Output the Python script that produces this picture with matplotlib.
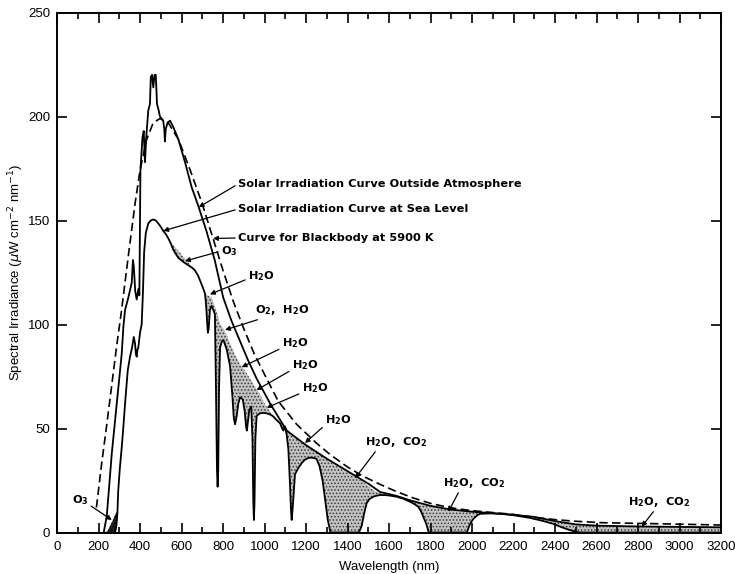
import numpy as np
import matplotlib
matplotlib.use("Agg")
import matplotlib.pyplot as plt
from matplotlib.ticker import MultipleLocator

plt.rcParams['hatch.linewidth'] = 0.7

# ---- Sea-level spectrum (nm, uW cm^-2 nm^-1) and top edge of the absorption shading ----
sea_nm = [240, 255, 270, 280, 286, 291, 295, 303, 312, 320,
          328, 336, 341, 352, 362, 370, 376, 380, 384, 388,
          392, 400, 408, 414, 420, 428, 440, 452, 464, 476,
          488, 500, 512, 524, 536, 548, 560, 572, 585, 598,
          610, 625, 640, 655, 665, 680, 690, 700, 713, 718,
          722, 727, 731, 737, 745, 753, 761, 766, 771, 774,
          777, 781, 786, 795, 802, 818, 834, 845, 852, 858,
          866, 874, 882, 895, 905, 911, 915, 921, 927, 936,
          942, 946, 949, 952, 956, 962, 978, 995, 1010, 1025,
          1040, 1059, 1075, 1083, 1091, 1099, 1107, 1115, 1122, 1128,
          1131, 1136, 1147, 1163, 1180, 1195, 1210, 1227, 1250, 1265,
          1280, 1293, 1305, 1318, 1340, 1360, 1380, 1400, 1420, 1440,
          1455, 1468, 1480, 1492, 1505, 1524, 1540, 1557, 1580, 1600,
          1637, 1670, 1701, 1720, 1741, 1755, 1765, 1780, 1792, 1850,
          1900, 1950, 1975, 1990, 2006, 2025, 2040, 2090, 2150, 2200,
          2280, 2340, 2390, 2430, 2470, 2500, 2520, 2600, 2700, 2800,
          2900, 3000, 3100, 3200]

sea_val = [0, 0, 0, 0, 3, 9, 20, 31, 41, 51,
           62, 72, 78, 84.5, 89, 94, 91, 86, 84.5, 88,
           89, 96, 100, 115, 135, 144, 148.6, 150, 150.5, 150,
           148.6, 147, 145, 143.5, 141.5, 139, 136, 134, 132, 131,
           130, 129, 128, 127, 126, 123.5, 121, 118.5, 115, 110,
           104, 96, 98, 107, 109, 107, 105, 70, 30, 22,
           30, 70, 89, 92, 92.5, 88, 80, 66, 55, 52,
           56, 62, 65, 64, 58, 51, 49, 54, 59, 60.5,
           45, 15, 6, 15, 45, 56, 57.3, 57.5, 57.3, 56.8,
           56, 54, 52.5, 50.5, 49, 51, 47, 40, 25, 10,
           6, 12, 28, 31, 33.5, 35, 35.8, 36, 35.5, 32,
           25, 15, 6, 0, 0, 0, 0, 0, 0, 0,
           0, 3, 9, 14, 16, 17.2, 17.7, 18, 18, 17.8,
           17.2, 16.2, 14.8, 13.8, 12.4, 10, 7.6, 4, 0, 0,
           0, 0, 0, 4, 6.5, 8.3, 9, 9.2, 8.9, 8.3,
           7, 5.6, 4.2, 2.6, 1.2, 0.4, 0, 0, 0, 0,
           0, 0, 0, 0]

absorb_top = [0, 3, 6, 8.5, 9.5, 10, 20, 31, 41, 51,
              62, 72, 78, 84.5, 89, 94, 91, 86, 84.5, 88,
              89, 96, 100, 115, 135, 144, 148.6, 150, 150.5, 150,
              148.6, 147, 145, 143.5, 141.5, 139, 138.5, 137, 135.5, 134,
              132.5, 131, 129, 127, 126, 123.5, 121, 118.5, 115, 114.5,
              114.3, 114, 113.8, 113.5, 113, 111, 108.5, 107, 105.5, 104.5,
              103.5, 102, 100.5, 99, 98, 95, 91, 88.5, 87, 85.5,
              84, 82.5, 81, 79.5, 78, 77, 76.5, 75.5, 74.5, 73,
              72, 71.5, 71, 70.5, 70, 69, 66.5, 63, 60.5, 58.5,
              56.5, 54.5, 53, 52.5, 51.5, 51, 49, 48.5, 47.8, 47,
              46.8, 46.3, 45.5, 44.5, 43, 42.5, 41, 40, 39, 38,
              36.5, 35.5, 35, 34, 32.5, 31.5, 30, 29, 27.8, 26.5,
              25.5, 25, 24, 23, 22, 20.5, 19.5, 19, 18.5, 18,
              17.4, 16.3, 15.3, 14.6, 14, 13.6, 13.3, 13, 12.6, 11.8,
              11, 10.5, 10.2, 10, 9.9, 9.7, 9.6, 9.3, 8.9, 8.4,
              7.4, 6.6, 5.3, 4.8, 4.2, 3.8, 3.6, 3.2, 3.0, 2.9,
              2.8, 2.7, 2.6, 2.5]

# ---- Spectrum outside the atmosphere ----
out_nm = [225, 240, 264, 288, 312, 320, 328, 344, 360, 366,
          370, 377, 384, 392, 397, 400, 402, 412, 418, 424,
          430, 440, 448, 452, 458, 464, 470, 476, 482, 490,
          496, 512, 517, 520, 524, 533, 545, 560, 585, 617,
          649, 681, 720, 760, 801, 840, 882, 920, 962, 1000,
          1027, 1107, 1200, 1300, 1400, 1500, 1557, 1640, 1700, 1800,
          1900, 2000, 2100, 2200, 2300, 2400, 2500, 2600, 2800, 3000,
          3200]
out_val = [0, 8, 38, 62, 86, 99, 107, 113, 120, 131,
           128, 116, 112, 117, 114, 150, 174, 190, 193, 178,
           190, 203, 206, 219, 220, 214, 220, 220, 206, 203,
           200, 198, 194, 188, 194, 197, 198, 195, 189, 178,
           166, 157, 145, 131, 113, 102, 92, 83, 74, 67,
           62, 49, 42, 35.5, 29.5, 23.5, 19.5, 17.5, 15.5, 12.8,
           11, 10, 9.3, 8.5, 7.5, 5.5, 3.9, 3.3, 2.9, 2.7,
           2.5]

# ---- Blackbody at 5900 K ----
bb_nm = [190, 215, 240, 264, 288, 310, 330, 345, 376, 400,
         432, 464, 496, 536, 585, 620, 650, 700, 750, 800,
         850, 900, 950, 1000, 1067, 1155, 1250, 1316, 1400, 1476,
         1560, 1640, 1720, 1800, 1900, 2000, 2100, 2200, 2300, 2400,
         2500, 2630, 2800, 2950, 3200]
bb_val = [12, 33, 52, 71, 90, 106, 122, 134, 158, 174,
          189, 197, 199, 197, 189, 180, 172, 158, 142, 126,
          111, 98, 86, 76, 63, 52, 43, 37.5, 31.5, 27,
          23, 19.5, 16.5, 14, 11.8, 10.5, 9.6, 8.7, 7.3, 6.2,
          5.4, 4.7, 4.4, 4.1, 3.6]

x_ticks = list(range(0, 3201, 200))
y_ticks = [0, 50, 100, 150, 200, 250]

sea_nm_a = np.array(sea_nm, float)
sea_a = np.array(sea_val, float)
top_a = np.array(absorb_top, float)

fig = plt.figure(figsize=(7.35, 5.74), dpi=100)
ax = fig.add_axes([57 / 735, 41.5 / 574, 664 / 735, 520 / 574])
ax.set_xlim(0, 3200)
ax.set_ylim(0, 250)

# absorption bands (stippled)
ir = (sea_nm_a > 500) & (top_a > sea_a)
ax.fill_between(sea_nm_a, sea_a, top_a, where=ir, interpolate=True,
                facecolor='#c2c2c2', edgecolor='#3a3a3a', hatch='.....',
                linewidth=0, zorder=1)
# ozone cut-off in the ultraviolet (dense)
uv = (sea_nm_a < 300) & (top_a > sea_a)
ax.fill_between(sea_nm_a, sea_a, top_a, where=uv, interpolate=True,
                facecolor='#202020', edgecolor='#000000', hatch='.....',
                linewidth=0, zorder=1)

ax.plot(out_nm, out_val, color='k', lw=1.3, zorder=3)
ax.plot(sea_nm, sea_val, color='k', lw=1.3, zorder=3)
ax.plot(bb_nm, bb_val, color='k', lw=1.2, ls=(0, (5, 2.6)), zorder=3)

# ---- axes styling ----
for s in ax.spines.values():
    s.set_linewidth(1.4)
ax.xaxis.set_major_locator(MultipleLocator(200))
ax.xaxis.set_minor_locator(MultipleLocator(100))
ax.set_xticks(x_ticks)
ax.set_yticks(y_ticks)
ax.tick_params(which='both', direction='in', top=True, right=True, width=1.2)
ax.tick_params(which='major', length=7)
ax.tick_params(which='minor', length=4.5)
ax.tick_params(axis='x', pad=6, labelsize=9.5)
ax.tick_params(axis='y', pad=5, labelsize=9.5)
for lab in ax.get_xticklabels() + ax.get_yticklabels():
    lab.set_family('Liberation Sans')

ax.set_xlabel('Wavelength (nm)', fontsize=9.5, family='Liberation Sans')
ax.xaxis.set_label_coords(0.5, -0.055)
ax.set_ylabel(r'Spectral Irradiance ($\mu$W cm$^{-2}$ nm$^{-1}$)',
              fontsize=9.5, family='Liberation Sans')
ax.yaxis.set_label_coords(-0.046, 0.5)

# ---- annotations ----
curves = {'out': (out_nm, out_val), 'sea': (sea_nm, sea_val), 'bb': (bb_nm, bb_val)}
H2O = r'H$_\mathbf{2}$O'
CO2 = r'CO$_\mathbf{2}$'
O3 = r'O$_\mathbf{3}$'
O2 = r'O$_\mathbf{2}$'

curve_notes = [
    ('Solar Irradiation Curve Outside Atmosphere', (872, 167.5), 683, 'out'),
    ('Solar Irradiation Curve at Sea Level', (872, 155.5), 512, 'sea'),
    ('Curve for Blackbody at 5900 K', (872, 141.6), 752, 'bb'),
]
band_notes = [
    (O3, (790, 135.3), (617, 130.5), (0, 0.5)),
    (H2O, (920, 123.3), (737, 114.5), (0, 0.3)),
    (O2 + ',  ' + H2O, (954, 107.0), (810, 97.4), (0.25, 0.05)),
    (H2O, (1083, 91.0), (890, 79.5), (0, 0.15)),
    (H2O, (1131, 80.5), (962, 68.5), (0, 0.15)),
    (H2O, (1179, 69.5), (1011, 60.0), (0, 0.15)),
    (H2O, (1292, 54.0), (1195, 43.0), (0, 0.15)),
    (H2O + ',  ' + CO2, (1484, 43.5), (1436, 26.0), (0.2, 0.0)),
    (H2O + ',  ' + CO2, (1860, 23.8), (1886, 10.0), (0.27, 0.0)),
    (H2O + ',  ' + CO2, (2752, 14.7), (2818, 2.8), (0.44, 0.0)),
    (O3, (71, 15.6), (264, 6.0), (1.0, 0.2)),
]

note_font = dict(family='DejaVu Sans', fontweight='bold', fontsize=8.2)

for text, xyt, tip_nm, key in curve_notes:
    cx, cy = curves[key]
    tip = (tip_nm, float(np.interp(tip_nm, cx, cy)))
    ax.annotate(text, xy=tip, xytext=xyt, ha='left', va='center', zorder=5,
                arrowprops=dict(arrowstyle='-|>', color='k', lw=0.9,
                                mutation_scale=7, shrinkA=0, shrinkB=0,
                                relpos=(0, 0.5)),
                **note_font)

for text, xyt, tip, rel in band_notes:
    ax.annotate(text, xy=tip, xytext=xyt, ha='left', va='center', zorder=5,
                arrowprops=dict(arrowstyle='-|>', color='k', lw=0.9,
                                mutation_scale=7, shrinkA=0, shrinkB=0,
                                relpos=rel),
                **note_font)

fig.savefig('out.png', dpi=100)
